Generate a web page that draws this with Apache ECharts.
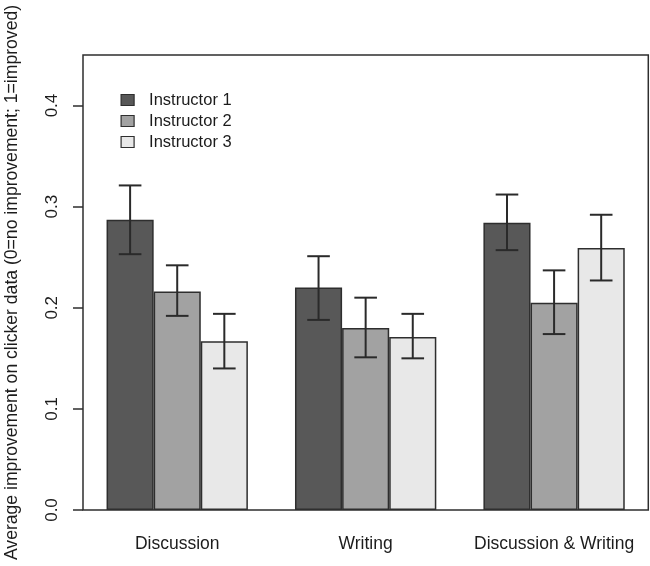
<!DOCTYPE html>
<html>
<head>
<meta charset="utf-8">
<script src="https://cdn.jsdelivr.net/npm/echarts@6/dist/echarts.min.js"></script>
<style>html,body{margin:0;padding:0;background:#fff;}#c{width:650px;height:566px;}</style>
</head>
<body>
<div id="c"></div>
<script>
const categories = ['Discussion', 'Writing', 'Discussion & Writing'];
const seriesNames = ['Instructor 1', 'Instructor 2', 'Instructor 3'];
const means1 = [0.287, 0.220, 0.284];
const means2 = [0.216, 0.180, 0.205];
const means3 = [0.167, 0.171, 0.259];
const lower1 = [0.253, 0.188, 0.257];
const upper1 = [0.321, 0.251, 0.312];
const lower2 = [0.192, 0.151, 0.174];
const upper2 = [0.242, 0.210, 0.237];
const lower3 = [0.140, 0.150, 0.227];
const upper3 = [0.194, 0.194, 0.292];
const yTicks = [0, 0.1, 0.2, 0.3, 0.4];
const yMax = 0.45;
const yTitle = 'Average improvement on clicker data (0=no improvement; 1=improved)';

const colors = ['#585858', '#a2a2a2', '#e8e8e8'];
const means = [means1, means2, means3];
const lowers = [lower1, lower2, lower3];
const uppers = [upper1, upper2, upper3];
const font = 'Liberation Sans, Arial, sans-serif';

const chart = echarts.init(document.getElementById('c'), null, {renderer: 'canvas'});

const barSeries = seriesNames.map((name, i) => ({
  name: name,
  type: 'bar',
  data: means[i],
  barGap: '0%',
  barCategoryGap: '25%',
  itemStyle: {color: colors[i], borderColor: '#2e2e2e', borderWidth: 1.5},
  emphasis: {disabled: true},
  z: 2
}));

const errSeries = seriesNames.map((name, i) => ({
  type: 'custom',
  name: name + ' err',
  data: categories.map((c, k) => [k, lowers[i][k], uppers[i][k]]),
  z: 5,
  renderItem: function (params, api) {
    const k = api.value(0);
    const lo = api.coord([k, api.value(1)]);
    const hi = api.coord([k, api.value(2)]);
    const band = api.size([1, 0])[0];
    const w = band * 0.75 / 3;
    const x = lo[0] + (i - 1) * w;
    const cap = w * 0.24;
    const style = {stroke: '#2a2a2a', lineWidth: 2};
    return {
      type: 'group',
      children: [
        {type: 'line', shape: {x1: x, y1: lo[1], x2: x, y2: hi[1]}, style: style},
        {type: 'line', shape: {x1: x - cap, y1: lo[1], x2: x + cap, y2: lo[1]}, style: style},
        {type: 'line', shape: {x1: x - cap, y1: hi[1], x2: x + cap, y2: hi[1]}, style: style}
      ]
    };
  }
}));

chart.setOption({
  animation: false,
  backgroundColor: '#fff',
  grid: {
    left: 83, right: 1.7, top: 55, bottom: 56,
    outerBoundsMode: 'none',
    containLabel: false,
    show: true, borderColor: '#2e2e2e', borderWidth: 1.5, backgroundColor: 'transparent'
  },
  legend: {
    data: seriesNames,
    orient: 'vertical',
    left: 115.5, top: 86.5,
    itemWidth: 13, itemHeight: 11, itemGap: 4,
    icon: 'rect',
    itemStyle: {borderColor: '#2e2e2e', borderWidth: 1.2},
    textStyle: {fontFamily: font, fontSize: 16.5, color: '#1c1c1c', padding: [0, 0, 0, 10]},
    selectedMode: false
  },
  xAxis: {
    type: 'category',
    data: categories,
    axisLine: {show: false},
    axisTick: {show: false},
    axisLabel: {fontFamily: font, fontSize: 17.5, color: '#1c1c1c', margin: 25, interval: 0, hideOverlap: false}
  },
  yAxis: {
    type: 'value',
    min: 0, max: yMax,
    splitLine: {show: false},
    axisLine: {show: false},
    axisTick: {show: true, length: 10, lineStyle: {color: '#2e2e2e', width: 1.5}, customValues: yTicks},
    axisLabel: {
      fontFamily: font, fontSize: 17, color: '#1c1c1c', rotate: 90, margin: 22,
      customValues: yTicks,
      formatter: v => v.toFixed(1)
    },
    name: yTitle,
    nameLocation: 'middle',
    nameGap: 62,
    nameTextStyle: {fontFamily: font, fontSize: 17.6, color: '#1c1c1c'}
  },
  series: barSeries.concat(errSeries)
});
</script>
</body>
</html>
